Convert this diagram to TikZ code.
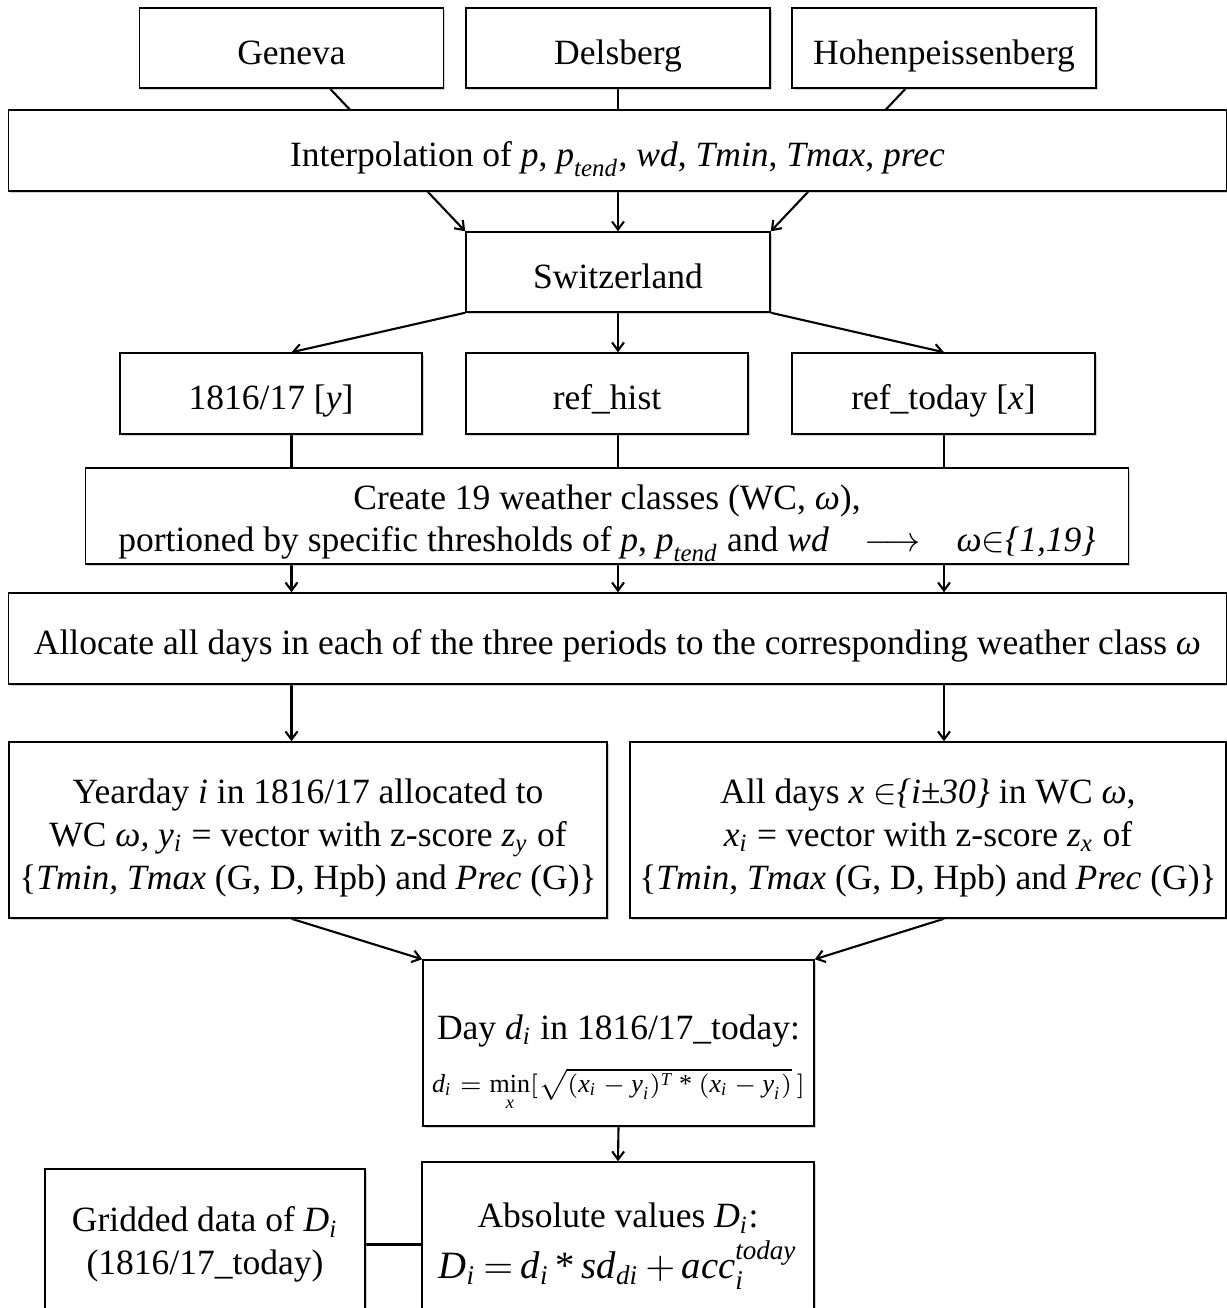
\documentclass[tikz,border=0pt]{standalone}
\usepackage{amsmath}
\usepackage{fontspec}
\setmainfont{Liberation Serif}
\usepackage{tikz}
\usetikzlibrary{arrows.meta, backgrounds, shadows}
\newcommand{\vi}[1]{\textit{#1}}
\newcommand{\tast}{\mathbin{\text{*}}}
\newcommand{\lift}[1]{\rule{0pt}{#1}}

\begin{document}
\begin{tikzpicture}[
  x=0.01cm, y=-0.01cm,
  box/.style={
    draw, line width=0.4pt, fill=white, align=center, inner sep=0pt,
    font=\fontsize{10.1}{12.1}\selectfont,
    drop shadow={shadow xshift=0.5pt, shadow yshift=-0.5pt, opacity=0.35}},
  single/.style={text height=1.12em, text depth=0.2em},
  con/.style={line width=0.6pt},
  arr/.style={con, -{Straight Barb[length=2.3pt, width=3.4pt]}},
]
  \useasboundingbox (0,0) rectangle (1227,1308);
  \clip (0,0) rectangle (1227,1308);

  %% Stations
  \foreach \x/\n/\name in {291.5/Geneva/gen, 618/Delsberg/del, 944/Hohenpeissenberg/hoh}
    \node[box, single, minimum width=3.04cm, minimum height=0.8cm] (\name) at (\x,48) {\n};

  \node[box, single, minimum width=12.17cm, minimum height=0.81cm] (interp) at (617.5,150.5)
    {Interpolation of \vi{p}, $\vi{p}_{\vi{tend}}$, \vi{wd}, \vi{Tmin}, \vi{Tmax}, \vi{prec}};
  \node[box, single, minimum width=3.04cm, minimum height=0.8cm] (swi) at (618,272) {Switzerland};

  %% Periods
  \node[box, single, minimum width=3.02cm, minimum height=0.81cm] (yr) at (271,393.5) {1816/17 [\vi{y}]};
  \node[box, single, minimum width=2.82cm, minimum height=0.81cm] (hist) at (607,393.5) {ref\_hist};
  \node[box, single, minimum width=3.03cm, minimum height=0.81cm] (today) at (943.5,393.5) {ref\_today [\vi{x}]};

  %% Weather classes
  \node[box, minimum width=10.42cm, minimum height=0.96cm] (wc) at (607,516)
    {\lift{11pt}Create 19 weather classes (WC, \vi{ω}),\\
     portioned by specific thresholds of \vi{p}, $\vi{p}_{\vi{tend}}$ and \vi{wd}\hspace{1em}$\longrightarrow$\hspace{1em}\vi{ω}$\in$\vi{\{1,19\}}};
  \node[box, single, minimum width=12.17cm, minimum height=0.91cm] (alloc) at (617.5,638.5)
    {Allocate all days in each of the three periods to the corresponding weather class \vi{ω}};

  %% Vectors
  \node[box, minimum width=5.98cm, minimum height=1.76cm] (yd) at (308,830)
    {\lift{11.5pt}Yearday \vi{i} in 1816/17 allocated to\\
     WC \vi{ω, y}$_{\vi{i}}$ = vector with z-score \vi{z}$_{\vi{y}}$ of\\
     \{\vi{Tmin, Tmax} (G, D, Hpb) and \vi{Prec} (G)\}};
  \node[box, minimum width=5.96cm, minimum height=1.76cm] (xd) at (928,830)
    {\lift{11.5pt}All days \vi{x} $\in$\vi{\{i±30\}} in WC \vi{ω},\\
     \vi{x}$_{\vi{i}}$ = vector with z-score \vi{z}$_{\vi{x}}$ of\\
     \{\vi{Tmin}, \vi{Tmax} (G, D, Hpb) and \vi{Prec} (G)\}};

  %% Analogue day and result
  \node[box, minimum width=3.91cm, minimum height=1.66cm] (day) at (618.5,1043)
    {\lift{18.5pt}Day \vi{d}$_{\vi{i}}$ in 1816/17\_today:\\[3pt]
     {\fontsize{7.4}{8}\selectfont
     $\vi{d}_{\vi{i}} = \mathop{\text{min}}\limits_{\vi{x}}[\sqrt{(\vi{x}_{\vi{i}} - \vi{y}_{\vi{i}})^{\vi{T}} \tast (\vi{x}_{\vi{i}} - \vi{y}_{\vi{i}})}\,]$}};
  \node[box, minimum width=3.92cm, minimum height=1.58cm] (absv) at (618,1241)
    {\lift{10pt}Absolute values \vi{D}$_{\vi{i}}$:\\[1.2pt]
     {\fontsize{11}{13}\selectfont \thickmuskip=3.5mu \medmuskip=3mu
     $\vi{D}_{\vi{i}} = \vi{d}_{\vi{i}} \tast \vi{sd}_{\vi{di}} + \vi{acc}_{\vi{i}}^{\vi{today}}$}};
  \node[box, minimum width=3.20cm, minimum height=1.51cm] (grid) at (205,1244.5)
    {Gridded data of \vi{D}$_{\vi{i}}$\\ (1816/17\_today)};

  %% Connectors
  \begin{scope}[on background layer]
    \draw[arr] (gen) -- (swi.north west);
    \draw[arr] (del) -- (swi.north);
    \draw[arr] (hoh) -- (swi.north east);

    \draw[arr] (swi.south west) -- (yr.north -| gen);
    \draw[arr] (swi.south) -- (hist.north -| del);
    \draw[arr] (swi.south east) -- (today.north -| hoh);

    \foreach \p/\c in {yr/gen, hist/del, today/hoh}
      \draw[arr] (\p.south -| \c) -- (alloc.north -| \c);

    \draw[arr] (alloc.south -| gen) -- (yd.north -| gen);
    \draw[arr] (alloc.south -| hoh) -- (xd.north -| hoh);

    \draw[arr] (yd.south -| gen) -- (day.north west);
    \draw[arr] (xd.south -| hoh) -- (day.north east);
    \draw[arr] (day.south) -- (absv.north);

    \draw[con, line width=0.8pt] (grid.east) -- (absv.west |- grid.east);
  \end{scope}
\end{tikzpicture}
\end{document}
